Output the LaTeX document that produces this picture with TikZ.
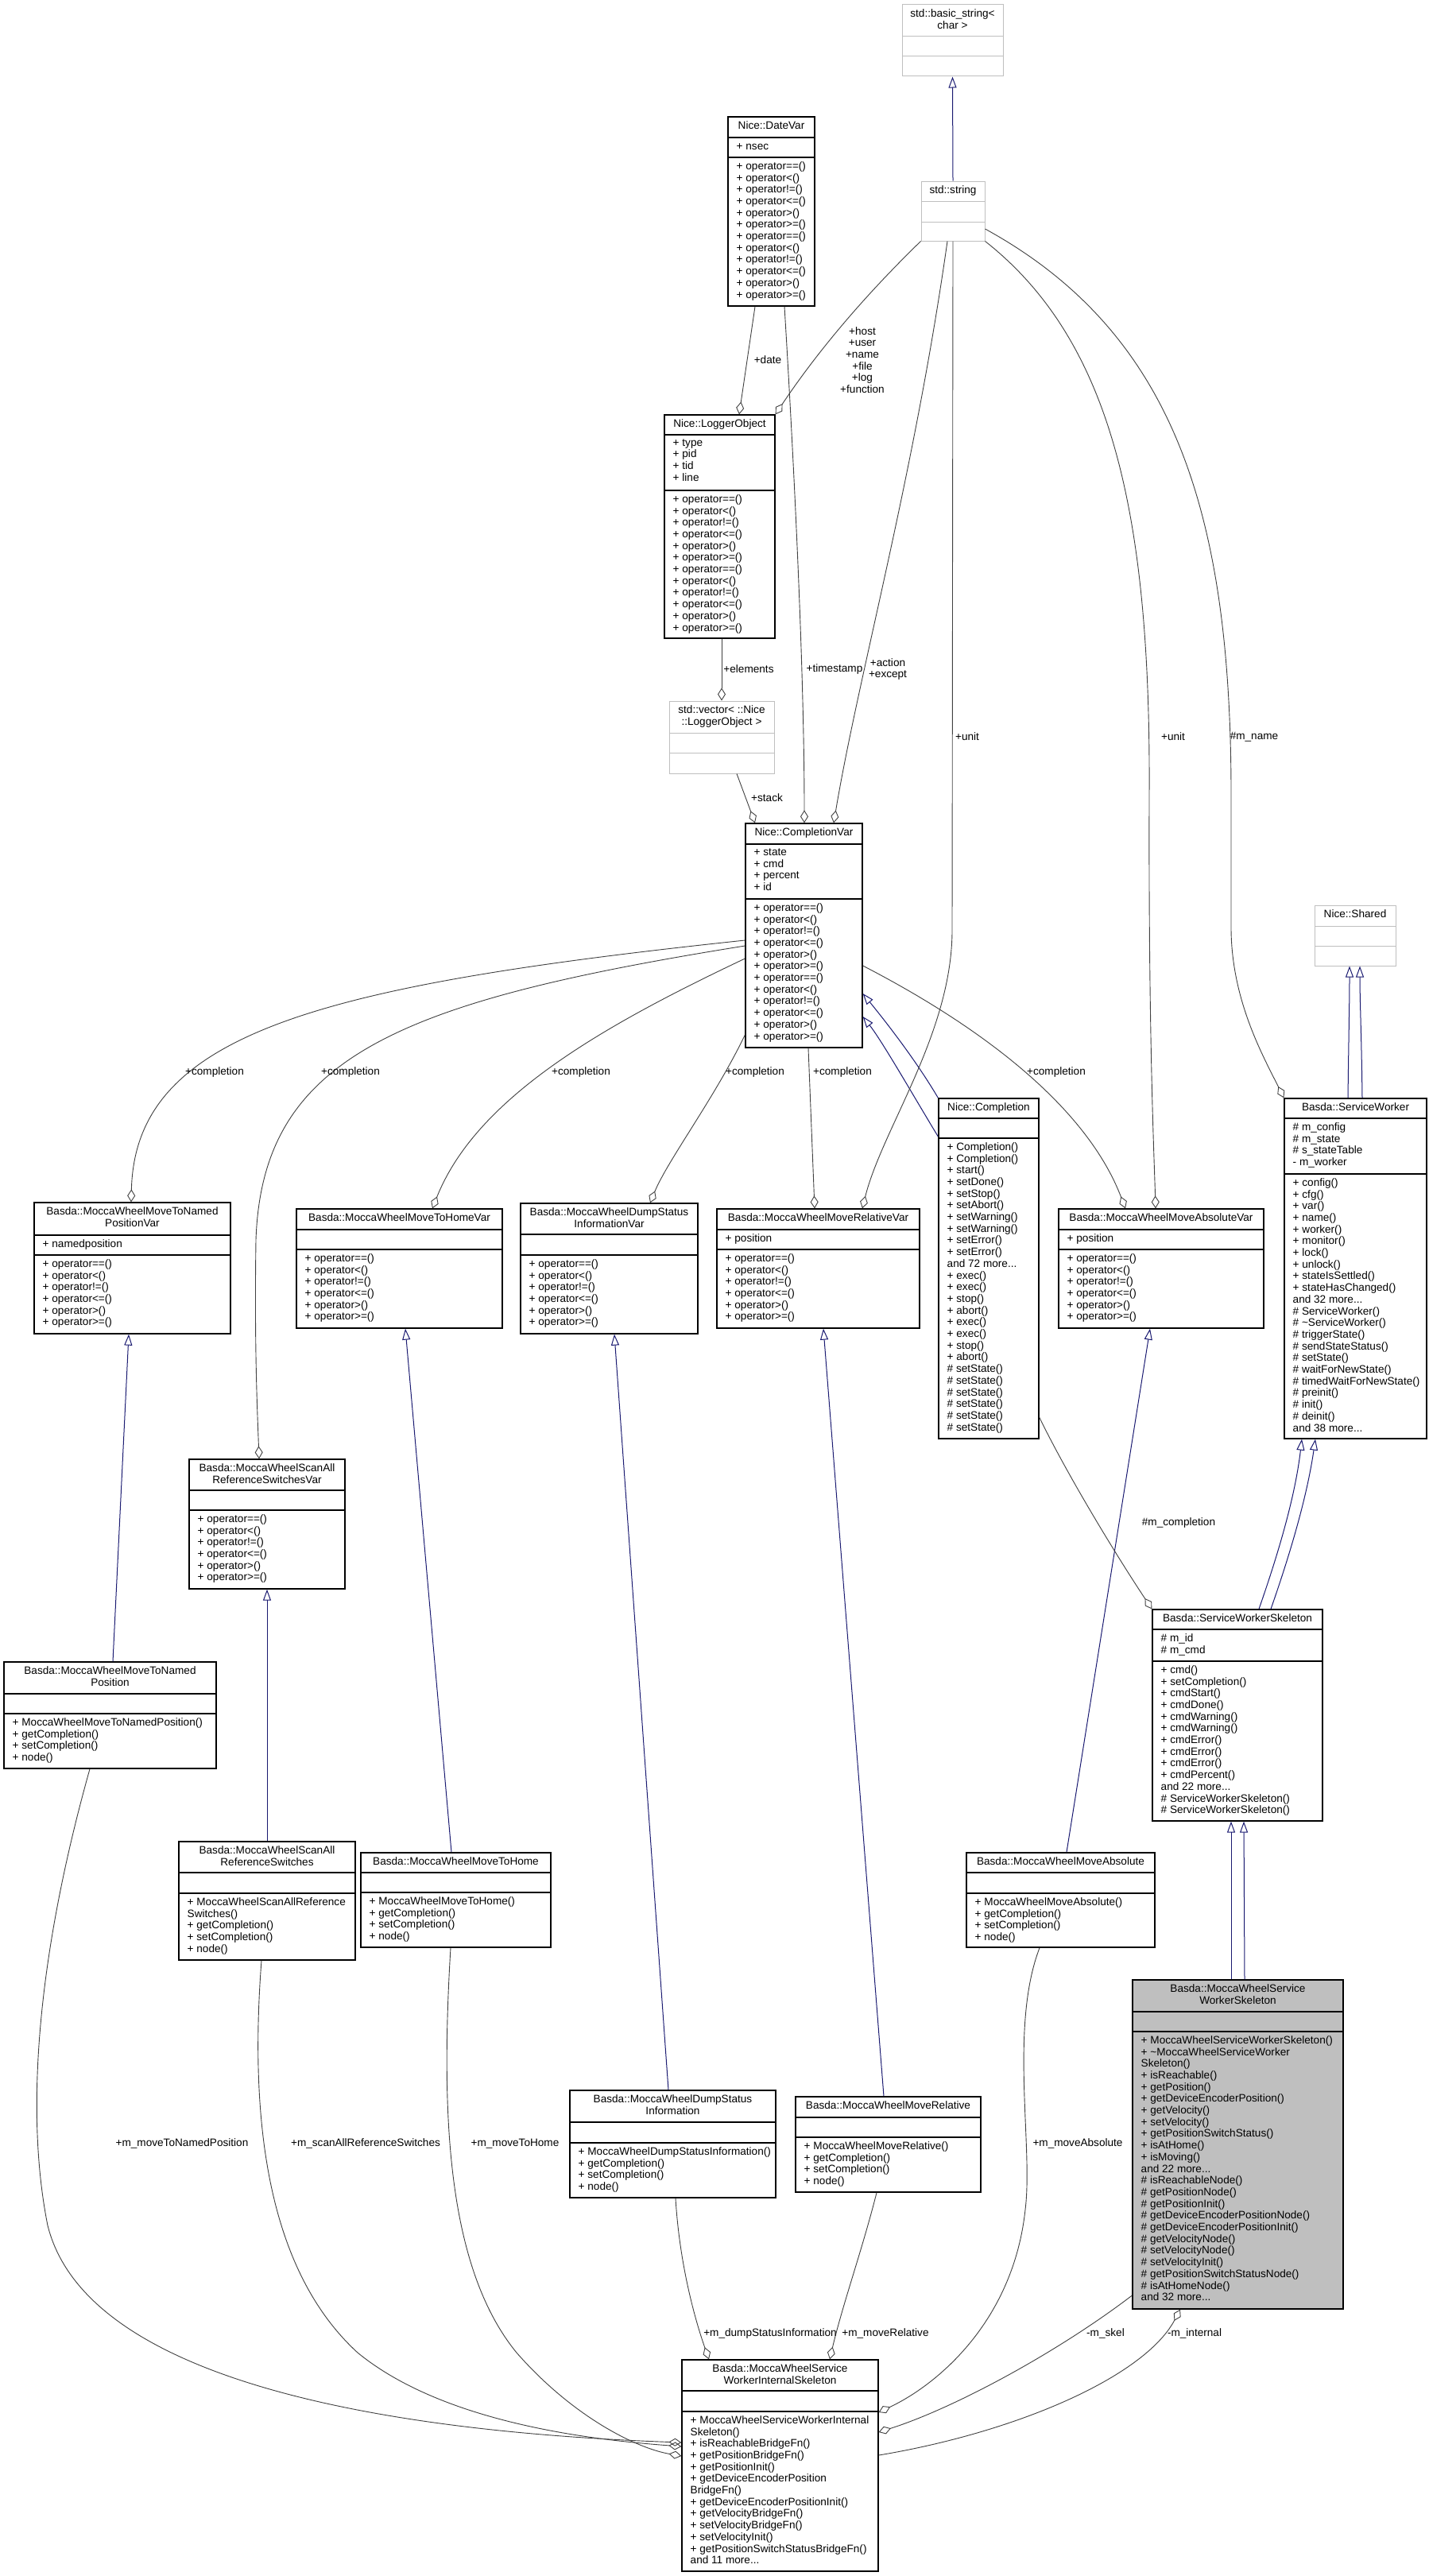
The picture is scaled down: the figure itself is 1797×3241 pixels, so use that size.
\documentclass[tikz,border=0pt]{standalone}
\usepackage{fontspec}
\setsansfont{Liberation Sans}
\usetikzlibrary{arrows.meta,fit,calc}
\definecolor{edgegray}{RGB}{64,64,64}
\definecolor{boxgray}{RGB}{191,191,191}
\definecolor{inhnavy}{RGB}{25,25,112}

\newcommand{\umlfont}{\sffamily\fontsize{13.6}{14.7}\selectfont}
\newcommand{\relops}{+ operator==()\\+ operator<()\\+ operator!=()\\+ operator<=()\\+ operator>()\\+ operator>=()}

\tikzset{
  umlbox/.style={draw=black,line width=1.3pt,inner sep=0pt},
  extbox/.style={draw=boxgray,line width=1pt},
  focusbox/.style={fill=boxgray},
  hdr/.style={anchor=north,align=center,inner sep=0pt,font=\umlfont,execute at begin node=\strut},
  mem/.style={anchor=north west,align=left,inner sep=0pt,font=\umlfont,execute at begin node=\strut},
  lbl/.style={align=center,inner sep=0pt,font=\umlfont},
  agg/.style={edgegray,line width=0.9pt,-{Diamond[open,length=16pt,width=10pt]}},
  inh/.style={inhnavy,line width=1pt,-{Triangle[open,length=14pt,width=10pt]}},
}

% class box: name, style, x1, y1, x2, y2, first divider, second divider
\newcommand{\umlclass}[8]{%
  \node[umlbox,#2,fit={(#3,#4) (#5,#6)}] (#1) {};
  \draw[umlbox,#2] (#3,#7) -- (#5,#7) (#3,#8) -- (#5,#8);
  \coordinate (#1-t) at ({(#3+#5)/2},#4+5.3);
  \coordinate (#1-a) at (#3+10.5,#7+5.3);
  \coordinate (#1-m) at (#3+10.5,#8+5.3);
}

\begin{document}
\begin{tikzpicture}[x=1pt,y=-1pt]
\useasboundingbox (0,0) rectangle (1797,3241);

% string and logger part
\umlclass{bstr}{extbox}{1135}{6}{1262}{96}{46}{71}
\node[hdr] (bstr-head) at (bstr-t) {std::basic\_string<\\char >};
\umlclass{str}{extbox}{1159}{228}{1239}{303}{253}{279}
\node[hdr] (str-head) at (str-t) {std::string};
\umlclass{date}{}{916}{147}{1025}{385}{173}{198}
\node[hdr] (date-head) at (date-t) {Nice::DateVar};
\node[mem] (date-attr) at (date-a) {+ nsec};
\node[mem] (date-ops) at (date-m) {\relops\\\relops};
\umlclass{log}{}{836}{522}{975}{803}{547}{617}
\node[hdr] (log-head) at (log-t) {Nice::LoggerObject};
\node[mem] (log-attr) at (log-a) {+ type\\+ pid\\+ tid\\+ line};
\node[mem] (log-ops) at (log-m) {\relops\\\relops};
\umlclass{vec}{extbox}{842}{882}{974}{973}{922}{947}
\node[hdr] (vec-head) at (vec-t) {std::vector< ::Nice\\::LoggerObject >};

% completion
\umlclass{cv}{}{938}{1036}{1085}{1318}{1062}{1131}
\node[hdr] (cv-head) at (cv-t) {Nice::CompletionVar};
\node[mem] (cv-attr) at (cv-a) {+ state\\+ cmd\\+ percent\\+ id};
\node[mem] (cv-ops) at (cv-m) {\relops\\\relops};
\umlclass{comp}{}{1181}{1382}{1307}{1810}{1407}{1432}
\node[hdr] (comp-head) at (comp-t) {Nice::Completion};
\node[mem] (comp-ops) at (comp-m) {+ Completion()\\+ Completion()\\+ start()\\+ setDone()\\+ setStop()\\+ setAbort()\\+ setWarning()\\+ setWarning()\\+ setError()\\+ setError()\\and 72 more...\\+ exec()\\+ exec()\\+ stop()\\+ abort()\\+ exec()\\+ exec()\\+ stop()\\+ abort()\\\# setState()\\\# setState()\\\# setState()\\\# setState()\\\# setState()\\\# setState()};

% variable classes
\umlclass{ntpv}{}{43}{1513}{290}{1678}{1554}{1579}
\node[hdr] (ntpv-head) at (ntpv-t) {Basda::MoccaWheelMoveToNamed\\PositionVar};
\node[mem] (ntpv-attr) at (ntpv-a) {+ namedposition};
\node[mem] (ntpv-ops) at (ntpv-m) {\relops};
\umlclass{thv}{}{373}{1521}{632}{1671}{1547}{1572}
\node[hdr] (thv-head) at (thv-t) {Basda::MoccaWheelMoveToHomeVar};
\node[mem] (thv-ops) at (thv-m) {\relops};
\umlclass{dsiv}{}{655}{1514}{878}{1678}{1553}{1579}
\node[hdr] (dsiv-head) at (dsiv-t) {Basda::MoccaWheelDumpStatus\\InformationVar};
\node[mem] (dsiv-ops) at (dsiv-m) {\relops};
\umlclass{relv}{}{902}{1521}{1157}{1671}{1547}{1572}
\node[hdr] (relv-head) at (relv-t) {Basda::MoccaWheelMoveRelativeVar};
\node[mem] (relv-attr) at (relv-a) {+ position};
\node[mem] (relv-ops) at (relv-m) {\relops};
\umlclass{absv}{}{1332}{1521}{1590}{1671}{1547}{1572}
\node[hdr] (absv-head) at (absv-t) {Basda::MoccaWheelMoveAbsoluteVar};
\node[mem] (absv-attr) at (absv-a) {+ position};
\node[mem] (absv-ops) at (absv-m) {\relops};
\umlclass{scanv}{}{238}{1836}{434}{1999}{1875}{1900}
\node[hdr] (scanv-head) at (scanv-t) {Basda::MoccaWheelScanAll\\ReferenceSwitchesVar};
\node[mem] (scanv-ops) at (scanv-m) {\relops};

% service worker
\umlclass{shared}{extbox}{1654}{1139}{1756}{1215}{1165}{1190}
\node[hdr] (shared-head) at (shared-t) {Nice::Shared};
\umlclass{sw}{}{1616}{1382}{1795}{1810}{1407}{1477}
\node[hdr] (sw-head) at (sw-t) {Basda::ServiceWorker};
\node[mem] (sw-attr) at (sw-a) {\# m\_config\\\# m\_state\\\# s\_stateTable\\- m\_worker};
\node[mem] (sw-ops) at (sw-m) {+ config()\\+ cfg()\\+ var()\\+ name()\\+ worker()\\+ monitor()\\+ lock()\\+ unlock()\\+ stateIsSettled()\\+ stateHasChanged()\\and 32 more...\\\# ServiceWorker()\\\# \textasciitilde ServiceWorker()\\\# triggerState()\\\# sendStateStatus()\\\# setState()\\\# waitForNewState()\\\# timedWaitForNewState()\\\# preinit()\\\# init()\\\# deinit()\\and 38 more...};
\umlclass{sws}{}{1450}{2025}{1664}{2291}{2050}{2090}
\node[hdr] (sws-head) at (sws-t) {Basda::ServiceWorkerSkeleton};
\node[mem] (sws-attr) at (sws-a) {\# m\_id\\\# m\_cmd};
\node[mem] (sws-ops) at (sws-m) {+ cmd()\\+ setCompletion()\\+ cmdStart()\\+ cmdDone()\\+ cmdWarning()\\+ cmdWarning()\\+ cmdError()\\+ cmdError()\\+ cmdError()\\+ cmdPercent()\\and 22 more...\\\# ServiceWorkerSkeleton()\\\# ServiceWorkerSkeleton()};

% command classes
\umlclass{ntp}{}{5}{2091}{272}{2225}{2131}{2156}
\node[hdr] (ntp-head) at (ntp-t) {Basda::MoccaWheelMoveToNamed\\Position};
\node[mem] (ntp-ops) at (ntp-m) {+ MoccaWheelMoveToNamedPosition()\\+ getCompletion()\\+ setCompletion()\\+ node()};
\umlclass{scan}{}{225}{2317}{447}{2466}{2356}{2382}
\node[hdr] (scan-head) at (scan-t) {Basda::MoccaWheelScanAll\\ReferenceSwitches};
\node[mem] (scan-ops) at (scan-m) {+ MoccaWheelScanAllReference\\Switches()\\+ getCompletion()\\+ setCompletion()\\+ node()};
\umlclass{th}{}{454}{2331}{693}{2450}{2356}{2381}
\node[hdr] (th-head) at (th-t) {Basda::MoccaWheelMoveToHome};
\node[mem] (th-ops) at (th-m) {+ MoccaWheelMoveToHome()\\+ getCompletion()\\+ setCompletion()\\+ node()};
\umlclass{abs}{}{1216}{2331}{1453}{2450}{2356}{2382}
\node[hdr] (abs-head) at (abs-t) {Basda::MoccaWheelMoveAbsolute};
\node[mem] (abs-ops) at (abs-m) {+ MoccaWheelMoveAbsolute()\\+ getCompletion()\\+ setCompletion()\\+ node()};
\umlclass{dsi}{}{717}{2630}{976}{2765}{2670}{2696}
\node[hdr] (dsi-head) at (dsi-t) {Basda::MoccaWheelDumpStatus\\Information};
\node[mem] (dsi-ops) at (dsi-m) {+ MoccaWheelDumpStatusInformation()\\+ getCompletion()\\+ setCompletion()\\+ node()};
\umlclass{rel}{}{1001}{2638}{1234}{2758}{2664}{2689}
\node[hdr] (rel-head) at (rel-t) {Basda::MoccaWheelMoveRelative};
\node[mem] (rel-ops) at (rel-m) {+ MoccaWheelMoveRelative()\\+ getCompletion()\\+ setCompletion()\\+ node()};

% skeletons
\umlclass{mwsws}{focusbox}{1425}{2491}{1690}{2905}{2531}{2556}
\node[hdr] (mwsws-head) at (mwsws-t) {Basda::MoccaWheelService\\WorkerSkeleton};
\node[mem] (mwsws-ops) at (mwsws-m) {+ MoccaWheelServiceWorkerSkeleton()\\+ \textasciitilde MoccaWheelServiceWorker\\Skeleton()\\+ isReachable()\\+ getPosition()\\+ getDeviceEncoderPosition()\\+ getVelocity()\\+ setVelocity()\\+ getPositionSwitchStatus()\\+ isAtHome()\\+ isMoving()\\and 22 more...\\\# isReachableNode()\\\# getPositionNode()\\\# getPositionInit()\\\# getDeviceEncoderPositionNode()\\\# getDeviceEncoderPositionInit()\\\# getVelocityNode()\\\# setVelocityNode()\\\# setVelocityInit()\\\# getPositionSwitchStatusNode()\\\# isAtHomeNode()\\and 32 more...};
\umlclass{wis}{}{858}{2969}{1105}{3235}{3008}{3034}
\node[hdr] (wis-head) at (wis-t) {Basda::MoccaWheelService\\WorkerInternalSkeleton};
\node[mem] (wis-ops) at (wis-m) {+ MoccaWheelServiceWorkerInternal\\Skeleton()\\+ isReachableBridgeFn()\\+ getPositionBridgeFn()\\+ getPositionInit()\\+ getDeviceEncoderPosition\\BridgeFn()\\+ getDeviceEncoderPositionInit()\\+ getVelocityBridgeFn()\\+ setVelocityBridgeFn()\\+ setVelocityInit()\\+ getPositionSwitchStatusBridgeFn()\\and 11 more...};

% inheritance
\draw[inh] (str.north) -- (bstr.south);
\draw[inh] (comp.north west) .. controls (1150,1330) and (1110,1280) .. (cv.east |- 0,1250);
\draw[inh] (comp.west |- 0,1430) .. controls (1150,1380) and (1110,1310) .. (cv.east |- 0,1279);
\draw[inh] (142,0 |- ntp.north) -- (162,0 |- ntpv.south);
\draw[inh] (scan.north) -- (scanv.south);
\draw[inh] (568,0 |- th.north) -- (510,0 |- thv.south);
\draw[inh] (841,0 |- dsi.north) -- (773,0 |- dsiv.south);
\draw[inh] (1112,0 |- rel.north) -- (1036,0 |- relv.south);
\draw[inh] (1342,0 |- abs.north) -- (1447,0 |- absv.south);
\draw[inh] (1696,0 |- sw.north) .. controls (1697,1300) and (1698,1260) .. (1698,0 |- shared.south);
\draw[inh] (1714,0 |- sw.north) .. controls (1713,1300) and (1711,1260) .. (1711,0 |- shared.south);
\draw[inh] (1584,0 |- sws.north) .. controls (1610,1950) and (1630,1880) .. (1638,0 |- sw.south);
\draw[inh] (1599,0 |- sws.north) .. controls (1625,1950) and (1645,1880) .. (1655,0 |- sw.south);
\draw[inh] (1549,0 |- mwsws.north) -- (1549,0 |- sws.south);
\draw[inh] (1566,0 |- mwsws.north) -- (1565,0 |- sws.south);

% members
\draw[agg] (950,0 |- date.south) -- (930,0 |- log.north);
\draw[agg] (str.south west) .. controls (1090,370) and (1030,440) .. (log.north east);
\draw[agg] (908,0 |- log.south) -- (908,0 |- vec.north);
\draw[agg] (927,0 |- vec.south) -- (950,0 |- cv.north);
\draw[agg] (987,0 |- date.south) .. controls (1000,600) and (1012,850) .. (1012,0 |- cv.north);
\draw[agg] (1192,0 |- str.south) .. controls (1150,600) and (1080,850) .. (1049,0 |- cv.north);
\draw[agg] (str.south) -- (1198,1170) .. controls (1198,1300) and (1110,1420) .. (1085,0 |- relv.north);
\draw[agg] (str.south east) .. controls (1400,430) and (1448,650) .. (1446,1000) .. controls (1445,1300) and (1452,1450) .. (1454,0 |- absv.north);
\draw[agg] (str.east |- 0,288) .. controls (1480,420) and (1549,650) .. (1549,1000) -- (1549,1170) .. controls (1550,1260) and (1590,1330) .. (sw.north west);
\draw[agg] (cv.west |- 0,1183) .. controls (400,1240) and (170,1300) .. (165,0 |- ntpv.north);
\draw[agg] (cv.west |- 0,1190) .. controls (500,1260) and (330,1330) .. (322,1560) .. controls (320,1700) and (324,1780) .. (326,0 |- scanv.north);
\draw[agg] (cv.west |- 0,1206) .. controls (760,1290) and (600,1380) .. (544,0 |- thv.north);
\draw[agg] (cv.west |- 0,1302) .. controls (900,1380) and (840,1460) .. (818,0 |- dsiv.north);
\draw[agg] (1017,0 |- cv.south) -- (1025,0 |- relv.north);
\draw[agg] (cv.east |- 0,1215) .. controls (1250,1300) and (1370,1400) .. (1416,0 |- absv.north);
\draw[agg] (comp.east |- 0,1783) .. controls (1340,1850) and (1400,1950) .. (sws.north west);
\draw[agg] (113,0 |- ntp.south) .. controls (50,2450) and (30,2650) .. (60,2800) .. controls (110,3000) and (500,3060) .. (wis.west |- 0,3073);
\draw[agg] (329,0 |- scan.south) .. controls (315,2650) and (330,2850) .. (450,2960) .. controls (560,3050) and (750,3070) .. (wis.west |- 0,3078);
\draw[agg] (567,0 |- th.south) .. controls (555,2650) and (560,2850) .. (650,2960) .. controls (720,3040) and (800,3080) .. (wis.west |- 0,3090);
\draw[agg] (850,0 |- dsi.south) .. controls (855,2850) and (875,2920) .. (892,0 |- wis.north);
\draw[agg] (1103,0 |- rel.south) .. controls (1085,2830) and (1060,2900) .. (1044,0 |- wis.north);
\draw[agg] (1308,0 |- abs.south) .. controls (1270,2550) and (1300,2700) .. (1290,2780) .. controls (1275,2920) and (1180,3000) .. (wis.east |- 0,3035);
\draw[agg] (mwsws.west |- 0,2888) .. controls (1330,2960) and (1200,3030) .. (wis.east |- 0,3060);
\draw[agg] (wis.east |- 0,3089) .. controls (1280,3060) and (1440,2990) .. (1485,0 |- mwsws.south);

% edge labels
\node[lbl] (l-date) at (966,453) {+date};
\node[lbl] (l-host) at (1085,453) {+host\\+user\\+name\\+file\\+log\\+function};
\node[lbl] (l-elem) at (942,842) {+elements};
\node[lbl] (l-time) at (1050,842) {+timestamp};
\node[lbl] (l-act) at (1117,842) {+action\\+except};
\node[lbl] (l-unit1) at (1217,927) {+unit};
\node[lbl] (l-unit2) at (1476,927) {+unit};
\node[lbl] (l-name) at (1578,927) {\#m\_name};
\node[lbl] (l-stack) at (965,1004) {+stack};
\node[lbl] (l-c1) at (270,1349) {+completion};
\node[lbl] (l-c2) at (441,1349) {+completion};
\node[lbl] (l-c3) at (731,1349) {+completion};
\node[lbl] (l-c4) at (950,1349) {+completion};
\node[lbl] (l-c5) at (1060,1349) {+completion};
\node[lbl] (l-c6) at (1329,1349) {+completion};
\node[lbl] (l-mcomp) at (1483,1916) {\#m\_completion};
\node[lbl] (l-ntp) at (229,2697) {+m\_moveToNamedPosition};
\node[lbl] (l-scan) at (460,2697) {+m\_scanAllReferenceSwitches};
\node[lbl] (l-th) at (648,2697) {+m\_moveToHome};
\node[lbl] (l-abs) at (1356,2697) {+m\_moveAbsolute};
\node[lbl] (l-dsi) at (969,2936) {+m\_dumpStatusInformation};
\node[lbl] (l-rel) at (1114,2936) {+m\_moveRelative};
\node[lbl] (l-skel) at (1391,2936) {-m\_skel};
\node[lbl] (l-int) at (1503,2936) {-m\_internal};
\end{tikzpicture}
\end{document}
